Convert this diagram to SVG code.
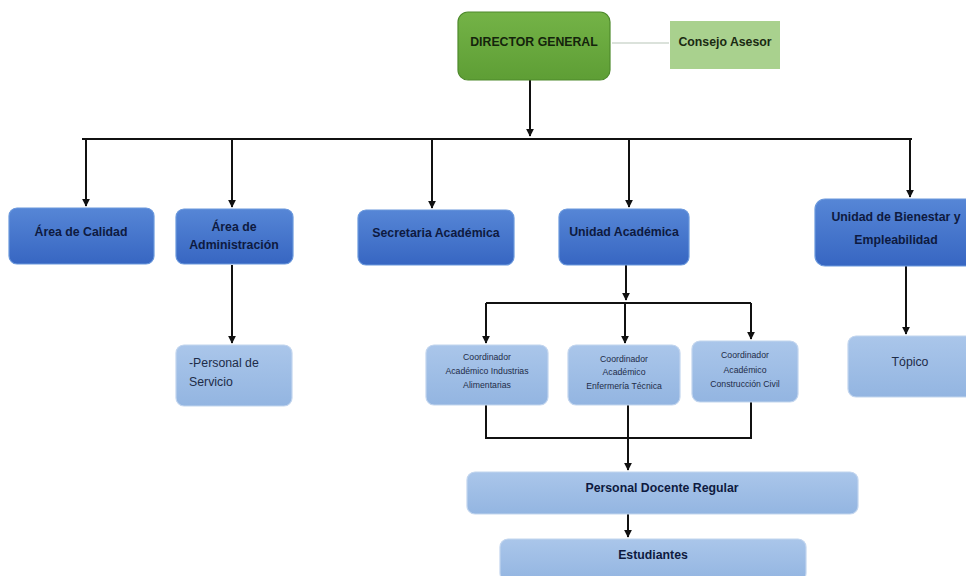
<svg xmlns="http://www.w3.org/2000/svg" width="966" height="576" viewBox="0 0 966 576">
<defs>
<linearGradient id="gBlue" x1="0" y1="0" x2="0" y2="1">
<stop offset="0" stop-color="#5686d6"/><stop offset="1" stop-color="#3766c2"/>
</linearGradient>
<linearGradient id="gLight" x1="0" y1="0" x2="0" y2="1">
<stop offset="0" stop-color="#aac6ea"/><stop offset="1" stop-color="#93b5e1"/>
</linearGradient>
<linearGradient id="gGreen" x1="0" y1="0" x2="0" y2="1">
<stop offset="0" stop-color="#74b347"/><stop offset="1" stop-color="#5e9e35"/>
</linearGradient>
<marker id="arr" viewBox="0 0 10 10" refX="9" refY="5" markerWidth="8" markerHeight="8" markerUnits="userSpaceOnUse" orient="auto">
<path d="M0,0 L10,5 L0,10 z" fill="#111"/>
</marker>
</defs>
<style>
.blue{fill:url(#gBlue);stroke:#6a98dc;stroke-width:1.2}
.light{fill:url(#gLight);stroke:#c2d5ee;stroke-width:1.2}
.t{font-family:"Liberation Sans",Arial,sans-serif;font-weight:bold;font-size:12.3px;fill:#0e1a40;text-anchor:middle}
.tl{font-family:"Liberation Sans",Arial,sans-serif;font-size:12.3px;fill:#1e2c48}
.ts{font-family:"Liberation Sans",Arial,sans-serif;font-size:8.7px;fill:#1e2c48;text-anchor:middle}
.c{stroke:#111;stroke-width:2;fill:none}
</style>
<rect width="966" height="576" fill="#fff"/>
<g id="connectors">
<line x1="612" y1="43" x2="669" y2="43" stroke="#cfd8cf" stroke-width="1.5"/>
<line class="c" x1="530" y1="80" x2="530" y2="136" marker-end="url(#arr)"/>
<line class="c" x1="82" y1="139" x2="912" y2="139"/>
<line class="c" x1="86" y1="139" x2="86" y2="206" marker-end="url(#arr)"/>
<line class="c" x1="232" y1="139" x2="232" y2="207" marker-end="url(#arr)"/>
<line class="c" x1="432" y1="139" x2="432" y2="208" marker-end="url(#arr)"/>
<line class="c" x1="629" y1="139" x2="629" y2="207" marker-end="url(#arr)"/>
<line class="c" x1="910" y1="139" x2="910" y2="197" marker-end="url(#arr)"/>
<line class="c" x1="232" y1="265" x2="232" y2="343" marker-end="url(#arr)"/>
<line class="c" x1="906" y1="266" x2="906" y2="334" marker-end="url(#arr)"/>
<line class="c" x1="626" y1="265" x2="626" y2="300" marker-end="url(#arr)"/>
<line class="c" x1="486" y1="303" x2="751" y2="303"/>
<line class="c" x1="486" y1="303" x2="486" y2="343" marker-end="url(#arr)"/>
<line class="c" x1="625" y1="303" x2="625" y2="343" marker-end="url(#arr)"/>
<line class="c" x1="751" y1="303" x2="751" y2="339" marker-end="url(#arr)"/>
<path class="c" d="M486,405 V438 H751 V402"/>
<line class="c" x1="628" y1="405" x2="628" y2="470" marker-end="url(#arr)"/>
<line class="c" x1="628" y1="514" x2="628" y2="537" marker-end="url(#arr)"/>
</g>
<g id="director">
<rect x="458" y="12" width="152" height="68" rx="10" fill="url(#gGreen)" stroke="#4e8a2c" stroke-width="1.2"/>
<text class="t" x="534" y="46" style="fill:#14240c">DIRECTOR GENERAL</text>
</g>
<g id="consejo">
<rect x="670" y="21" width="110" height="48" fill="#a9d18e"/>
<text class="t" x="725" y="46" style="fill:#1a2a12">Consejo Asesor</text>
</g>
<g id="calidad">
<rect class="blue" x="9" y="208" width="145" height="56" rx="8"/>
<text class="t" x="81" y="236">Área de Calidad</text>
</g>
<g id="administracion">
<rect class="blue" x="176" y="209" width="117" height="55" rx="8"/>
<text class="t" x="234" y="231">Área de</text>
<text class="t" x="234" y="249">Administración</text>
</g>
<g id="personal-servicio">
<rect class="light" x="176" y="345" width="116" height="61" rx="8"/>
<text class="tl" x="189" y="367">-Personal de</text>
<text class="tl" x="189" y="386">Servicio</text>
</g>
<g id="secretaria">
<rect class="blue" x="358" y="210" width="156" height="55" rx="8"/>
<text class="t" x="436" y="237">Secretaria Académica</text>
</g>
<g id="unidad-academica">
<rect class="blue" x="559" y="209" width="130" height="56" rx="8"/>
<text class="t" x="624" y="236">Unidad Académica</text>
</g>
<g id="bienestar">
<rect class="blue" x="815" y="199" width="160" height="67" rx="10"/>
<text class="t" x="896" y="221">Unidad de Bienestar y</text>
<text class="t" x="896" y="244">Empleabilidad</text>
</g>
<g id="topico">
<rect class="light" x="848" y="336" width="128" height="61" rx="8"/>
<text class="tl" x="910" y="366" text-anchor="middle">Tópico</text>
</g>
<g id="coord-industrias">
<rect class="light" x="426" y="345" width="122" height="60" rx="8"/>
<text class="ts" x="487" y="360">Coordinador</text>
<text class="ts" x="487" y="374">Académico Industrias</text>
<text class="ts" x="487" y="388">Alimentarias</text>
</g>
<g id="coord-enfermeria">
<rect class="light" x="568" y="345" width="112" height="60" rx="8"/>
<text class="ts" x="624" y="362">Coordinador</text>
<text class="ts" x="624" y="375">Académico</text>
<text class="ts" x="624" y="389">Enfermería Técnica</text>
</g>
<g id="coord-construccion">
<rect class="light" x="692" y="341" width="106" height="61" rx="8"/>
<text class="ts" x="745" y="358">Coordinador</text>
<text class="ts" x="745" y="373">Académico</text>
<text class="ts" x="745" y="387">Construcción Civil</text>
</g>
<g id="docente">
<rect class="light" x="467" y="472" width="391" height="42" rx="8"/>
<text class="t" x="662" y="492">Personal Docente Regular</text>
</g>
<g id="estudiantes">
<rect class="light" x="500" y="539" width="306" height="42" rx="8"/>
<text class="t" x="653" y="559">Estudiantes</text>
</g>
</svg>
